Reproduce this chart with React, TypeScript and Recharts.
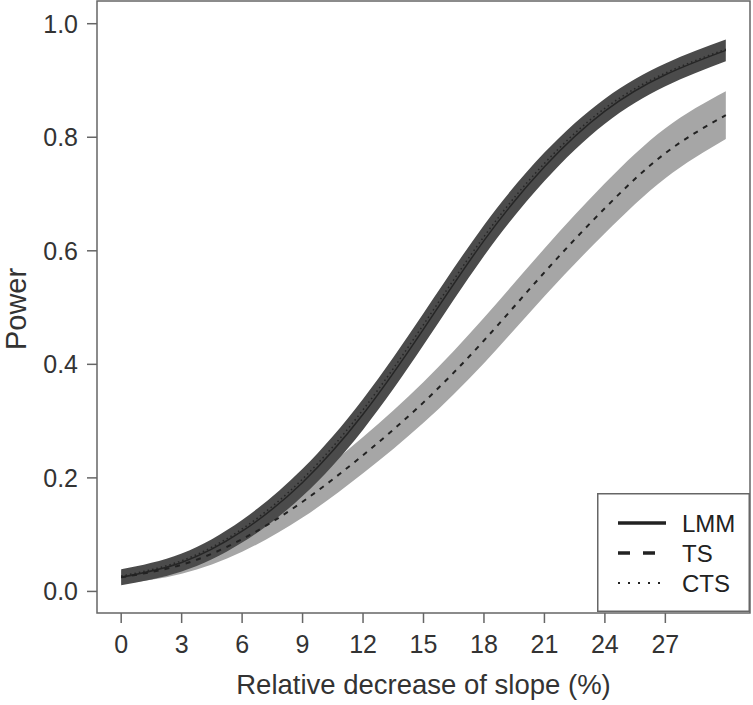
import React from "react";
import {
  ComposedChart,
  Area,
  Line,
  XAxis,
  YAxis,
  Legend,
  ReferenceArea,
} from "recharts";

// relative decrease of slope (%)
const slopeDecrease = [0, 3, 6, 9, 12, 15, 18, 21, 24, 27, 30];

// LMM power + band
const lmmPower = [0.025, 0.051, 0.106, 0.192, 0.312, 0.462, 0.618, 0.748, 0.846, 0.91, 0.953];
const lmmLow = [0.011, 0.035, 0.086, 0.168, 0.285, 0.434, 0.591, 0.723, 0.824, 0.89, 0.934];
const lmmHigh = [0.039, 0.067, 0.126, 0.216, 0.339, 0.49, 0.645, 0.773, 0.868, 0.93, 0.972];

// CTS sits almost on top of LMM
const ctsPower = [0.027, 0.054, 0.11, 0.198, 0.32, 0.47, 0.625, 0.754, 0.851, 0.913, 0.955];

// TS power + band
const tsPower = [0.025, 0.047, 0.092, 0.158, 0.24, 0.333, 0.442, 0.562, 0.675, 0.772, 0.839];
const tsLow = [0.013, 0.031, 0.07, 0.13, 0.208, 0.297, 0.402, 0.52, 0.631, 0.728, 0.797];
const tsHigh = [0.037, 0.063, 0.114, 0.186, 0.272, 0.369, 0.482, 0.604, 0.719, 0.816, 0.881];

const xTicks = [0, 3, 6, 9, 12, 15, 18, 21, 24, 27];
const yTicks = [0, 0.2, 0.4, 0.6, 0.8, 1.0];

const legendItems = [
  { name: "LMM", dash: undefined as string | undefined, width: 3.5 },
  { name: "TS", dash: "12 13", width: 3.5 },
  { name: "CTS", dash: "2 8", width: 2 },
];

const data = slopeDecrease.map((x, i) => ({
  x,
  lmm: lmmPower[i],
  cts: ctsPower[i],
  ts: tsPower[i],
  lmmBand: [lmmLow[i], lmmHigh[i]],
  tsBand: [tsLow[i], tsHigh[i]],
}));

const FONT = '"Liberation Sans", Arial, Helvetica, sans-serif';
const X_MIN = -1.2;
const X_MAX = 31.2;
const Y_MIN = -0.038;
const Y_MAX = 1.04;

function LegendBox() {
  return (
    <svg width={153} height={119} style={{ display: "block" }}>
      <rect x={0.75} y={0.75} width={151.5} height={117.5} fill="#fff" stroke="#666" strokeWidth={1.5} />
      {legendItems.map((it, i) => {
        const y = 30 + i * 30;
        return (
          <g key={it.name}>
            <line
              x1={21}
              x2={69}
              y1={y}
              y2={y}
              stroke="#222"
              strokeWidth={it.width}
              strokeDasharray={it.dash}
            />
            <text x={85} y={y + 8.5} fontSize={24} fill="#222" fontFamily={FONT}>
              {it.name}
            </text>
          </g>
        );
      })}
    </svg>
  );
}

export default function App() {
  return (
    <div style={{ position: "absolute", left: 0, top: 0, background: "#fff", fontFamily: FONT }}>
      <ComposedChart
        width={753}
        height={705}
        data={data}
        margin={{ top: 1, right: 3, bottom: 0, left: 0 }}
      >
        <XAxis
          type="number"
          dataKey="x"
          domain={[X_MIN, X_MAX]}
          ticks={xTicks}
          allowDataOverflow
          height={92}
          axisLine={false}
          tickSize={10}
          tickMargin={12}
          tickLine={{ stroke: "#666", strokeWidth: 1.5 }}
          tick={{ fill: "#333", fontSize: 25, fontFamily: FONT }}
          label={{
            value: "Relative decrease of slope (%)",
            position: "insideBottom",
            offset: 11,
            fill: "#333",
            fontSize: 27.5,
            fontFamily: FONT,
          }}
        />
        <YAxis
          type="number"
          domain={[Y_MIN, Y_MAX]}
          ticks={yTicks}
          allowDataOverflow
          width={97}
          axisLine={false}
          tickSize={10}
          tickMargin={9}
          tickLine={{ stroke: "#666", strokeWidth: 1.5 }}
          tick={{ fill: "#333", fontSize: 25, fontFamily: FONT }}
          tickFormatter={(v: number) => v.toFixed(1)}
          label={{
            content: (props: any) => {
              const vb = props.viewBox || { x: 0, y: 1, height: 612 };
              const cy = vb.y + vb.height / 2 + 2;
              return (
                <text
                  x={26}
                  y={cy}
                  transform={`rotate(-90 26 ${cy})`}
                  textAnchor="middle"
                  fontSize={29}
                  fill="#333"
                  fontFamily={FONT}
                >
                  Power
                </text>
              );
            },
          }}
        />

        <Area
          type="natural"
          dataKey="tsBand"
          stroke="none"
          fill="#a6a6a6"
          fillOpacity={1}
          isAnimationActive={false}
        />
        <Area
          type="natural"
          dataKey="lmmBand"
          stroke="none"
          fill="#4b4b4b"
          fillOpacity={1}
          isAnimationActive={false}
        />
        <Line
          type="natural"
          dataKey="lmm"
          stroke="#262626"
          strokeWidth={1.5}
          dot={false}
          isAnimationActive={false}
        />
        <Line
          type="natural"
          dataKey="cts"
          stroke="#262626"
          strokeWidth={1.5}
          strokeDasharray="1.5 3"
          dot={false}
          isAnimationActive={false}
        />
        <Line
          type="natural"
          dataKey="ts"
          stroke="#222"
          strokeWidth={2}
          strokeDasharray="5 6"
          dot={false}
          isAnimationActive={false}
        />

        <ReferenceArea
          x1={X_MIN}
          x2={X_MAX}
          y1={Y_MIN}
          y2={Y_MAX}
          fill="none"
          stroke="#666"
          strokeWidth={1.5}
          ifOverflow="visible"
        />

        <Legend
          layout="vertical"
          align="center"
          verticalAlign="middle"
          content={() => <LegendBox />}
          wrapperStyle={{ left: 597, top: 493, width: 153, height: 119 }}
        />
      </ComposedChart>
    </div>
  );
}
